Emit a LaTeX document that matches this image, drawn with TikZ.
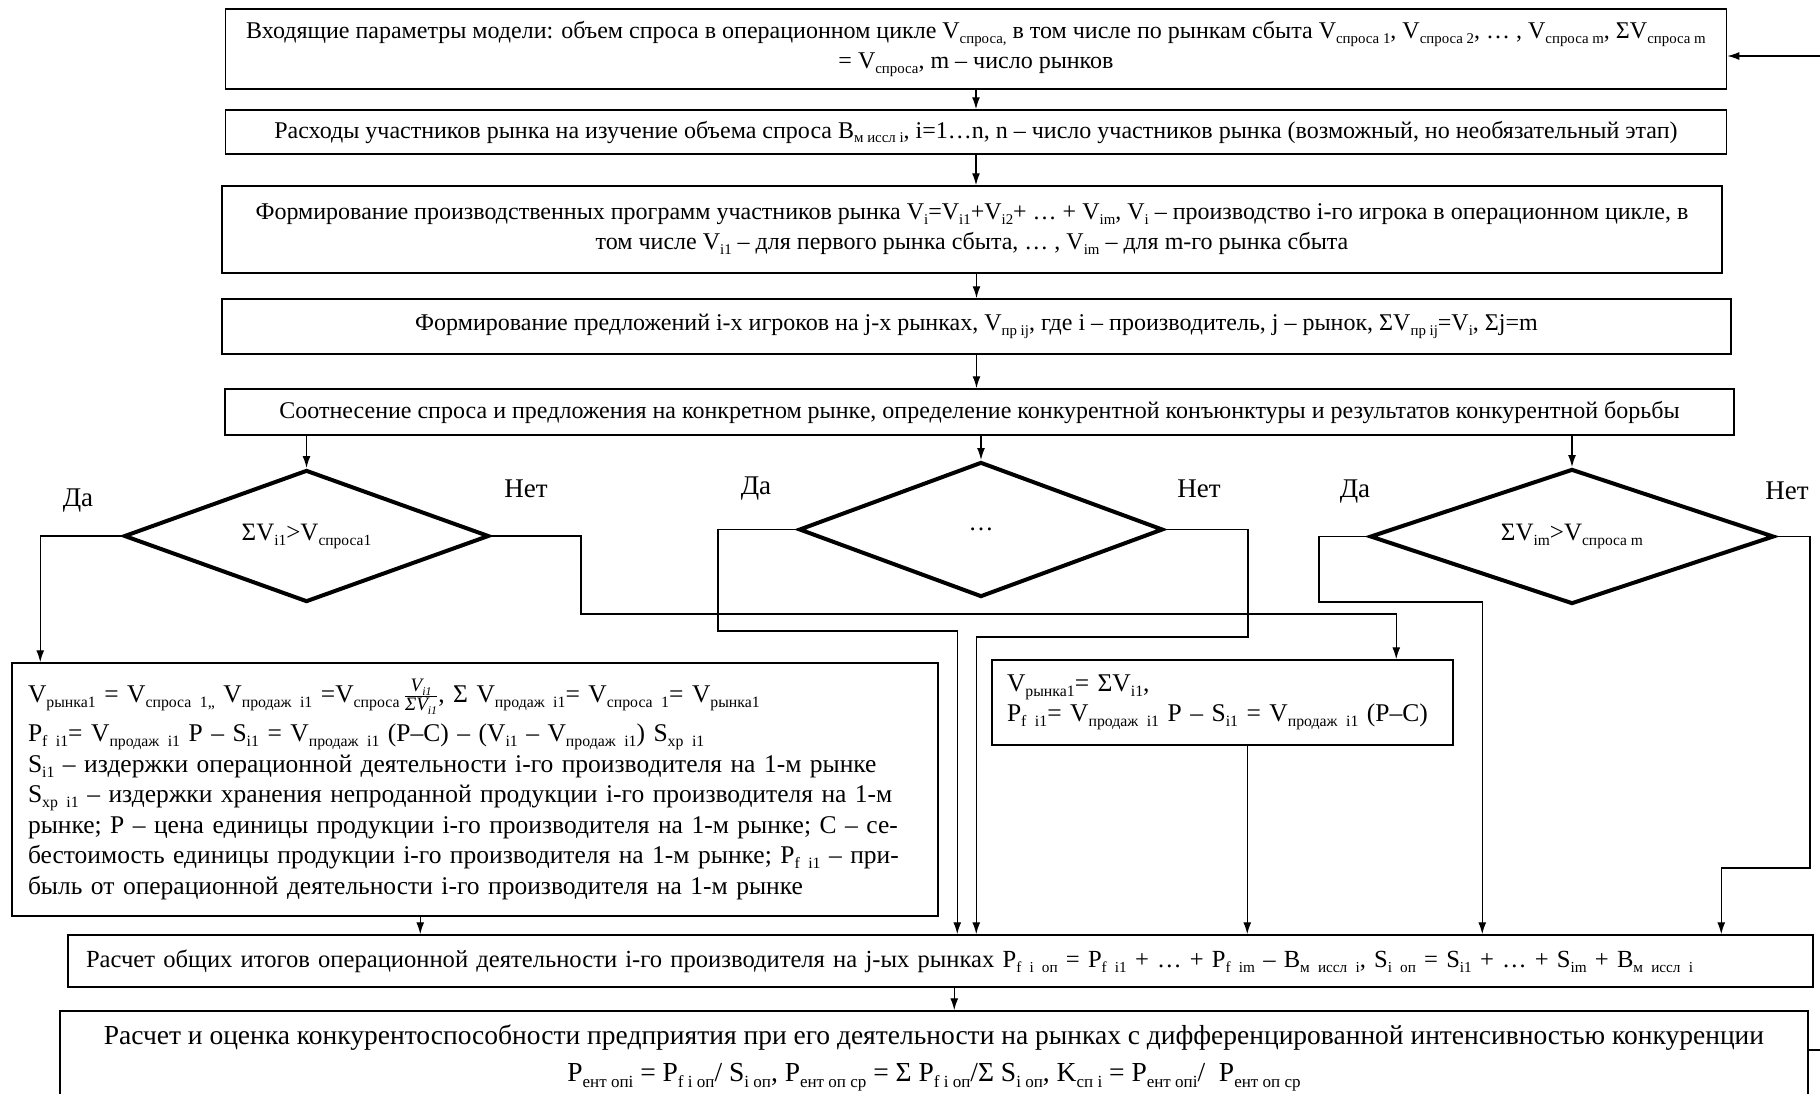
\documentclass[tikz,border=0pt]{standalone}
\usepackage{fontspec}
\setmainfont{Liberation Serif}
\usetikzlibrary{arrows.meta,shapes.geometric,calc}
\makeatletter
\newcommand\sbs[1]{\raisebox{-0.2em}{\fontsize{\fpeval{0.62*\f@size}}{0}\selectfont #1}}
\makeatother
\newcommand\fsmall{\fontsize{24}{30}\selectfont}
\newcommand\fc{\fontsize{24.6}{30}\selectfont}
\newcommand\flarge{\fontsize{25.5}{30.5}\selectfont}
\newcommand\fd{\fontsize{27.5}{37}\selectfont}
\newcommand\flbl{\fontsize{27}{30}\selectfont}
\newcommand\fdia{\fontsize{25}{30}\selectfont}
\begin{document}
\begin{tikzpicture}[x=1pt,y=-1pt,
  box/.style={draw, line width=1.5pt, inner sep=0pt, align=center, font=\fsmall},
  dia/.style={draw, diamond, line width=4pt, inner sep=0pt, font=\fdia},
  arr/.style={-{Latex[length=12pt,width=8pt]}, line width=1.4pt},
  ln/.style={line width=1.4pt},
  lbl/.style={font=\flbl, inner sep=0pt}]
\useasboundingbox[fill=white] (0,0) rectangle (1820,1093);

% main boxes
\node[box, minimum width=1501pt, minimum height=80pt] (b1) at (976,49)
 {Входящие параметры модели: объем спроса в операционном цикле V\sbs{спроса,} в том числе по рынкам сбыта V\sbs{спроса 1}, V\sbs{спроса 2}, … , V\sbs{спроса m}, ΣV\sbs{спроса m}\\= V\sbs{спроса}, m – число рынков};
\node[box, minimum width=1501pt, minimum height=44pt] (b2) at (976,132)
 {Расходы участников рынка на изучение объема спроса В\sbs{м иссл i}, i=1…n, n – число участников рынка (возможный, но необязательный этап)};
\node[box, minimum width=1500pt, minimum height=87pt] (b3) at (972,229.5)
 {Формирование производственных программ участников рынка V\sbs{i}=V\sbs{i1}+V\sbs{i2}+ … + V\sbs{im}, V\sbs{i} – производство i-го игрока в операционном цикле, в\\том числе V\sbs{i1} – для первого рынка сбыта, … , V\sbs{im} – для m-го рынка сбыта};
\node[box, minimum width=1509pt, minimum height=55pt] (b4) at (976.5,326.5)
 {Формирование предложений i-х игроков на j-х рынках, V\sbs{пр ij}, где i – производитель, j – рынок, ΣV\sbs{пр ij}=V\sbs{i}, Σj=m};
\node[box, minimum width=1509pt, minimum height=46pt] (b5) at (979.5,412)
 {Соотнесение спроса и предложения на конкретном рынке, определение конкурентной конъюнктуры и результатов конкурентной борьбы};

% diamonds
\node[dia, minimum width=365pt, minimum height=132pt, aspect=2.77] (d1) at (306.5,536) {ΣV\sbs{i1}>V\sbs{спроса1}};
\node[dia, minimum width=364pt, minimum height=135pt, aspect=2.7] (d2) at (981,529.5) {…};
\node[dia, minimum width=404pt, minimum height=135pt, aspect=3] (d3) at (1572,536.5) {ΣV\sbs{im}>V\sbs{спроса m}};

% labels
\node[lbl] (yes1) at (78,501) {Да};
\node[lbl] (no1) at (526,489) {Нет};
\node[lbl] (yes2) at (756,489) {Да};
\node[lbl] (no2) at (1199,489) {Нет};
\node[lbl] (yes3) at (1355,492) {Да};
\node[lbl] (no3) at (1787,491) {Нет};

% result boxes
\node[box, font=\flarge, align=left, minimum width=926pt, minimum height=253pt, inner xsep=16pt, text width=894pt] (bA) at (475,789.5)
 {V\sbs{рынка1} = V\sbs{спроса 1,,} V\sbs{продаж i1} =V\sbs{спроса}\,$\frac{\mbox{\fontsize{19}{19}\selectfont\itshape V\sbs{i1}}}{\mbox{\fontsize{19}{19}\selectfont\itshape ΣV\sbs{i1}}}$, Σ V\sbs{продаж i1}= V\sbs{спроса 1}= V\sbs{рынка1}\\[9pt]
 P\sbs{f i1}= V\sbs{продаж i1} P – S\sbs{i1} = V\sbs{продаж i1} (P–C) – (V\sbs{i1} – V\sbs{продаж i1}) S\sbs{хр i1}\\
 S\sbs{i1} – издержки операционной деятельности i-го производителя на 1-м рынке\\
 S\sbs{хр i1} – издержки хранения непроданной продукции i-го производителя на 1-м\\
 рынке; P – цена единицы продукции i-го производителя на 1-м рынке; C – се-\\
 бестоимость единицы продукции i-го производителя на 1-м рынке; P\sbs{f i1} – при-\\
 быль от операционной деятельности i-го производителя на 1-м рынке};
\node[box, font=\flarge, align=left, minimum width=461pt, minimum height=85pt, inner xsep=15pt, text width=431pt] (bB) at (1222.5,702.5)
 {V\sbs{рынка1}= ΣV\sbs{i1},\\P\sbs{f i1}= V\sbs{продаж i1} P – S\sbs{i1} = V\sbs{продаж i1} (P–C)};
\node[box, font=\fc, align=left, minimum width=1745pt, minimum height=52pt, inner xsep=18pt, text width=1709pt] (bC) at (940.5,961)
 {Расчет общих итогов операционной деятельности i-го производителя на j-ых рынках P\sbs{f i оп} = P\sbs{f i1} + … + P\sbs{f im} – В\sbs{м иссл i}, S\sbs{i оп} = S\sbs{i1} + … + S\sbs{im} + В\sbs{м иссл i}};
\node[box, font=\fd, minimum width=1748pt, minimum height=94pt] (bD) at (934,1058)
 {Расчет и оценка конкурентоспособности предприятия при его деятельности на рынках с дифференцированной интенсивностью конкуренции\\P\sbs{ент опi} = P\sbs{f i оп}/ S\sbs{i оп}, P\sbs{ент оп ср} = Σ P\sbs{f i оп}/Σ S\sbs{i оп}, K\sbs{сп i} = P\sbs{ент опi}/~ P\sbs{ент оп ср}};

% vertical chain
\draw[arr] (b1.south) -- (b1.south |- b2.north);
\draw[arr] (b2.south) -- (b2.south |- b3.north);
\draw[arr] (b3.south -| b4.north) -- (b4.north);
\draw[arr] (b4.south) -- (b4.south |- b5.north);
\draw[arr] (d1.north |- b5.south) -- (d1.north);
\draw[arr] (d2.north |- b5.south) -- (d2.north);
\draw[arr] (d3.north |- b5.south) -- (d3.north);

% branches
\draw[arr] (d1.west) -| ([xshift=29pt]bA.north west);
\draw[arr] (d1.east) -| (581,614) -| ([xshift=405pt]bB.north west);
\draw[arr] (d2.west) -| (718,631) -| ([xshift=890pt]bC.north west);
\draw[arr] (d2.east) -| (1248,637) -| ([xshift=909pt]bC.north west);
\draw[arr] (d3.west) -| (1319,602) -| ([xshift=1415pt]bC.north west);
\draw[arr] (d3.east) -| (1810,868) -| ([xshift=1654pt]bC.north west);

\coordinate (pA) at ([xshift=409pt]bA.south west);
\coordinate (pB) at ([xshift=256pt]bB.south west);
\coordinate (pC) at ([xshift=887pt]bC.south west);
\draw[arr] (pA) -- (pA |- bC.north);
\draw[arr] (pB) -- (pB |- bC.north);
\draw[arr] (pC) -- (pC |- bD.north);

% feedback stubs
\coordinate (fbtop) at (1820,56);
\coordinate (fbbot) at (1820,1050);
\draw[arr] (fbtop) -- (fbtop -| b1.east);
\draw[ln] (fbbot -| bD.east) -- (fbbot);
\end{tikzpicture}
\end{document}
